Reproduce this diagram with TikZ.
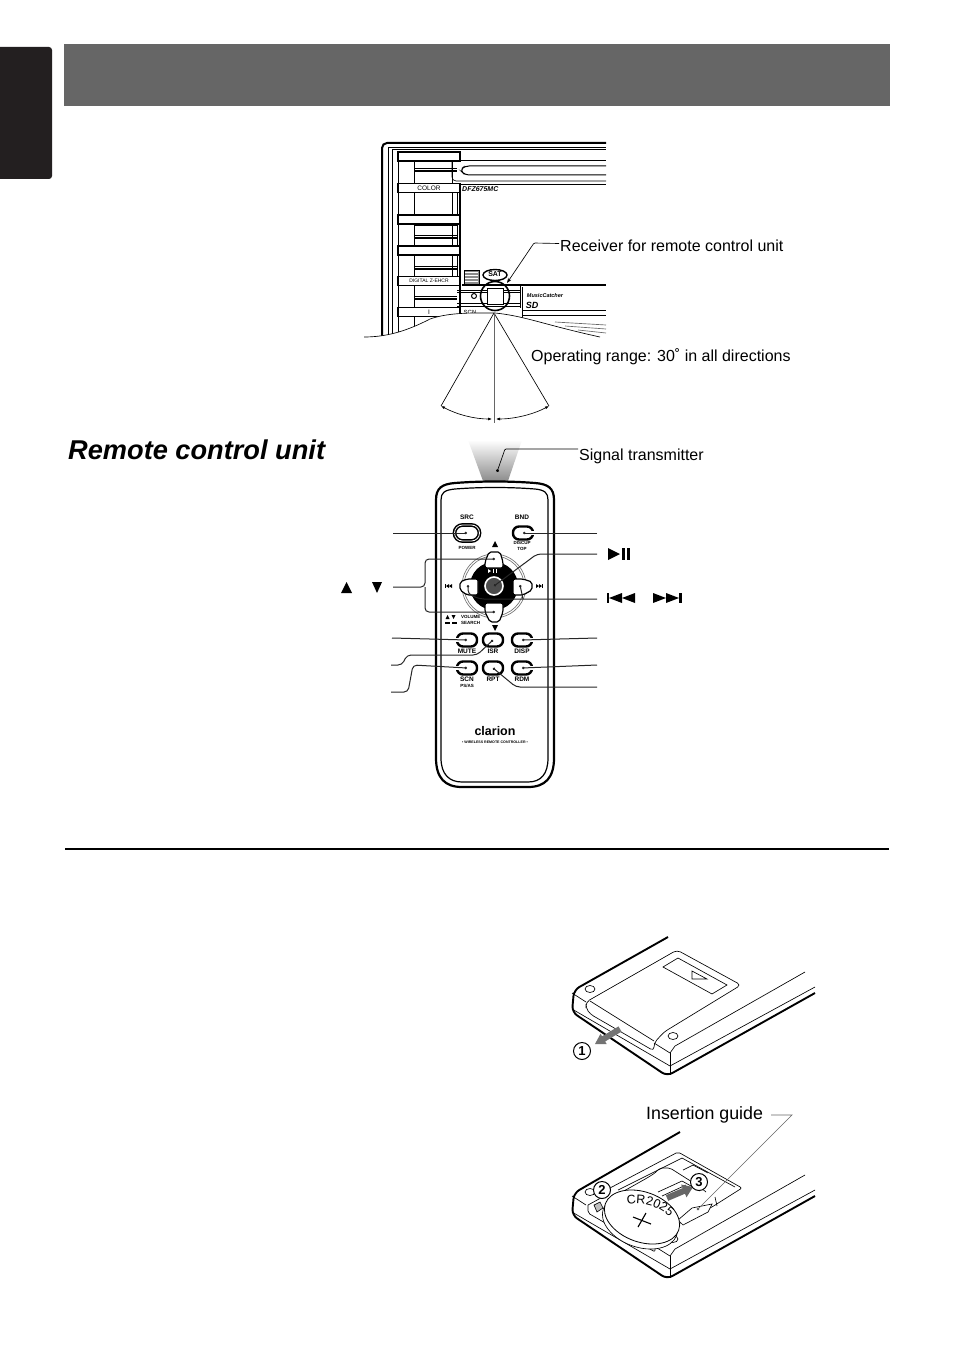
\documentclass[tikz,border=0pt]{standalone}
\usepackage{fontspec}
\setmainfont{Liberation Sans}
\usetikzlibrary{arrows.meta,shapes.geometric,decorations.text}
\definecolor{tabblack}{HTML}{231F20}
\newcommand{\sizept}[1]{\fontsize{#1}{#1}\selectfont}
% body of the remote seen from behind, start of the top edge as argument
\newcommand{\remotebody}[1]{
  \draw[line width=1.9pt,rounded corners=6pt] #1 -- (574,990) -- (572,1012) -- (667,1076) -- (815,993);
  \draw[thin] (572,993) -- (586,1002);
  \draw[thin] (572,1009) -- (670,1066) -- (815,987);
  \draw[thin] (670,1053) -- (670,1075);
  \draw[thin] (654,1043) -- (670,1053) -- (675,1046) -- (805,972);
  \draw[thin] (590,989) ellipse [x radius=5pt,y radius=3.5pt];
  \draw[thin] (673,1036) ellipse [x radius=5pt,y radius=3.5pt];
}
\tikzset{
  thin/.style={line width=0.65pt},
  headbtn/.style={draw,fill=white,line width=1.5pt,minimum width=62pt,minimum height=9pt,inner sep=0pt,font=\sizept{6.5}},
  rcbtn/.style={draw,fill=white,line width=2.4pt,rounded corners=6pt,minimum width=20pt,minimum height=13pt,inner sep=0pt},
  padbtn/.style={draw,fill=white,line width=1.2pt,rounded corners=2pt},
  rclabel/.style={inner sep=0pt,font=\sizept{6.5}\bfseries},
  rcsmall/.style={inner sep=0pt,font=\sizept{4.5}\bfseries},
  leader/.style={line width=1pt,draw=black!85,rounded corners=4pt,-{Circle[length=2.5pt]}},
  caption/.style={anchor=west,inner sep=1pt,font=\sizept{16}},
  numdisc/.style={circle,draw,fill=white,line width=1pt,minimum size=17pt,inner sep=0pt,font=\sizept{13}\bfseries},
  slit/.style={line width=1.2pt},
}
\begin{document}
\begin{tikzpicture}[x=1pt,y=-1pt]
  \fill[white] (0,0) rectangle (954,1351);
  \useasboundingbox (0,0) rectangle (954,1351);
  % page furniture
  \fill[tabblack,rounded corners=3pt] (-6,47) rectangle (52,179);
  \fill[black!60] (64,44) rectangle (890,106);
  \node[anchor=west,inner sep=0pt,font=\sizept{27.2}\bfseries\itshape] (rcutitle) at (68,450) {Remote control unit};
  \draw[line width=2.4pt] (65,849) -- (889,849);

  % head unit
  \draw[line width=2pt,rounded corners=5pt] (382,340) -- (382,143) -- (606,143);
  \draw[thin] (388,340) -- (388,147) -- (606,147);
  \draw[thin] (392,340) -- (392,149) -- (606,149);
  \draw[thin] (398,340) -- (398,152);
  \draw[thin] (414,161) -- (414,340);
  \draw[thin] (452,161) -- (452,184);
  \draw[thin] (452,192) -- (452,277);
  \draw[thin] (457,192) -- (457,277);
  \draw[line width=1.5pt] (460,184) -- (460,316);
  \draw[thin] (460,160) -- (606,160);
  \draw[line width=1pt,rounded corners=4pt] (606,166) -- (465,166) -- (460,170) -- (465,175) -- (606,175);
  \draw[thin,rounded corners=4pt] (452,161) -- (452,181) -- (606,181);
  \draw[thin] (460,184) -- (606,184);
  \foreach \y in {168,222,235,266,296} {
    \draw[thin] (414,\y) -- (457,\y);
    \draw[slit] (414,\y+3) -- (457,\y+3);
  }
  \node[headbtn] (btnone) at (429,156.5) {};
  \node[headbtn] (btncolor) at (429,188) {COLOR};
  \node[headbtn] (btnthree) at (429,219.5) {};
  \node[headbtn] (btnfour) at (429,250.5) {};
  \node[headbtn,font=\sizept{5}] (btnenhc) at (429,281) {DIGITAL Z-EHCR};
  \node[headbtn] (btnsix) at (429,312) {I};
  \node[anchor=west,inner sep=0pt,font=\sizept{7}\bfseries\itshape] (modelname) at (462,189) {DFZ675MC};
  \draw[thin] (457,290) -- (520,290);
  \draw[thin] (457,292) -- (520,292);
  \draw[thin] (457,303) -- (520,303);
  \draw[thin] (457,306) -- (520,306);
  \draw[line width=1.5pt] (462,285) -- (606,285);
  \draw[line width=1pt] (520,285) -- (520,308);
  \draw[thin] (522,287) -- (522,318);
  \draw[thin] (522,310) -- (606,310);
  \draw[thin] (522,315) -- (606,315);
  \node[inner sep=0pt,font=\sizept{5.5}\bfseries\itshape] (musiccatcher) at (545,296) {MusicCatcher};
  \node[inner sep=0pt,font=\sizept{9}\bfseries\itshape] (sdmark) at (532,305) {SD};
  \node[inner sep=0pt,font=\sizept{6}] (scnmark) at (470,312) {SCN};
  \draw[thin,fill=black!45] (464,270) rectangle (479,284);
  \foreach \y in {272,275,278,281} \draw[white,thin] (465,\y) -- (478,\y);
  \draw[line width=1.4pt,fill=white] (495,275) ellipse [x radius=12pt,y radius=5.5pt];
  \node[inner sep=0pt,font=\sizept{7}\bfseries] (satmark) at (495,274.5) {SAT};
  \draw[line width=1pt,fill=white] (474,296) circle [radius=2.5pt];
  \draw[thin,fill=white] (487,288) rectangle (503,304);
  \node[circle,draw,line width=1.6pt,minimum size=29pt,inner sep=0pt] (receiver) at (495,296) {};
  % cut edge of the drawing
  \fill[white] (364,337) .. controls (385,337) and (405,332) .. (430,319) .. controls (450,312) and (475,313) .. (495,313) .. controls (525,316) and (570,330) .. (607,338) -- (607,345) -- (364,345) -- cycle;
  \draw[thin] (364,337) .. controls (385,337) and (405,332) .. (430,319) .. controls (450,312) and (475,313) .. (495,313) .. controls (525,316) and (545,325) .. (600,337);
  \draw[black!60,thin] (555,322) -- (606,325);
  \draw[black!60,thin] (565,326) -- (606,329);
  \draw[black!60,thin] (578,330) -- (606,333);
  \node[caption] (recvlabel) at (559,245.5) {Receiver for remote control unit};
  \draw[thin,rounded corners=1pt,-{Stealth[length=5pt]}] (recvlabel.west) ++(0,-2) -- (534,243) -- (507,283);
  \node[caption] (rangelabel) at (530,357) {Operating range: 30˚ in all directions};
  \coordinate (fanapex) at (494,313);
  \coordinate (fanleft) at (441,406);
  \coordinate (fanright) at (549,406);
  \coordinate (fanmid) at (494,423);
  \draw[thin] (fanleft) -- (fanapex) -- (fanright);
  \draw[black!60,thin] (fanapex) -- (fanmid);
  \draw[thin,{Latex[length=4pt]}-{Latex[length=4pt]}] (fanleft) .. controls (458,415) and (475,419) .. (492,419);
  \draw[thin,{Latex[length=4pt]}-{Latex[length=4pt]}] (fanright) .. controls (532,415) and (513,419) .. (496,419);

  % remote control
  \shade[top color=white,bottom color=black!45] (468,440) -- (522,440) -- (508,481) -- (483,481) -- cycle;
  \draw[line width=2.2pt] (436,500) .. controls (436,488) and (442,484) .. (455,483) .. controls (480,481) and (510,481) .. (535,483) .. controls (548,484) and (554,488) .. (554,500) -- (554,758) .. controls (554,778) and (545,787) .. (528,787) -- (462,787) .. controls (445,787) and (436,778) .. (436,758) -- cycle;
  \draw[line width=1.2pt] (441,500) .. controls (441,493) and (444,490) .. (455,489) .. controls (480,487) and (510,487) .. (535,489) .. controls (545,490) and (548,493) .. (548,500) -- (548,758) .. controls (548,774) and (541,782) .. (528,782) -- (462,782) .. controls (449,782) and (441,774) .. (441,758) -- cycle;
  \node[rcbtn,double,line width=1.5pt,double distance=0.8pt,minimum width=25pt,minimum height=16pt,rounded corners=8pt] (srcbtn) at (467,533) {};
  \node[rcbtn] (bndbtn) at (523,533) {};
  \node[rcbtn] (mutebtn) at (467,640) {};
  \node[rcbtn] (isrbtn) at (493,640) {};
  \node[rcbtn] (dispbtn) at (522,640) {};
  \node[rcbtn] (scnbtn) at (467,668) {};
  \node[rcbtn] (rptbtn) at (493,668) {};
  \node[rcbtn] (rdmbtn) at (522,668) {};
  \foreach \b/\d in {bndbtn/east,mutebtn/west,dispbtn/east,scnbtn/west,rdmbtn/east}
    \draw[white,line width=4pt,shorten <=-2pt] (\b.\d) -- (\b.center);
  \node[rclabel] (srclabel) at (467,517) {SRC};
  \node[rclabel] (bndlabel) at (522,517) {BND};
  \node[rcsmall] (powerlabel) at (467,548) {POWER};
  \node[rcsmall] (disclabel) at (522,543) {DISCUP};
  \node[rcsmall] (toplabel) at (522,549) {TOP};
  \node[rclabel] (mutelabel) at (467,651) {MUTE};
  \node[rclabel] (isrlabel) at (493,651) {ISR};
  \node[rclabel] (displabel) at (522,651) {DISP};
  \node[rclabel] (scnlabel) at (467,679) {SCN};
  \node[rclabel] (rptlabel) at (493,679) {RPT};
  \node[rclabel] (rdmlabel) at (522,679) {RDM};
  \node[rcsmall] (pslabel) at (467,686) {PS/AS};
  \node[rcsmall,anchor=west] (vollabel) at (461,617) {VOLUME};
  \node[rcsmall,anchor=west] (searchlabel) at (461,623) {SEARCH};
  \fill (445.5,619) -- (449.5,619) -- (447.5,615) -- cycle;
  \fill (451.5,615) -- (455.5,615) -- (453.5,619) -- cycle;
  \fill (445,621.5) rectangle (450,624);
  \fill (452,621.5) rectangle (457,624);
  \node[inner sep=0pt,font=\sizept{12.5}\bfseries] (clarionname) at (495,731) {clarion};
  \node[inner sep=0pt,font=\sizept{3.6}\bfseries] (wirelessname) at (495,742) {• WIRELESS REMOTE CONTROLLER •};
  % pad
  \draw[black!55,thin] (494,586) circle [radius=32pt];
  \draw[black!55,thin] (494,586) circle [radius=30pt];
  \fill[black] (494,586) circle [radius=24pt];
  \draw[padbtn] (489,552) -- (500,552) -- (503,562) -- (503,568) -- (485,568) -- (485,562) -- cycle;
  \draw[padbtn] (485,603) -- (503,603) -- (503,612) -- (499,622) -- (490,622) -- (485,612) -- cycle;
  \draw[padbtn] (460,582) -- (467,579) -- (478,579) -- (478,595) -- (467,595) -- (460,590) -- cycle;
  \draw[padbtn] (513,579) -- (523,579) -- (532,582) -- (532,590) -- (523,595) -- (513,595) -- cycle;
  \node[circle,draw=white,fill=black!70,line width=1.6pt,minimum size=18pt,inner sep=0pt] (okbtn) at (494,586) {};
  \fill[white] (488,569) -- (488,573) -- (491,571) -- cycle;
  \fill[white] (493,569) rectangle (494,573);
  \fill[white] (495.5,569) rectangle (496.5,573);
  \fill (492,547) -- (498,547) -- (495,541) -- cycle;
  \fill (492,625) -- (498,625) -- (495,631) -- cycle;
  % small marks left and right of the pad
  \fill (445,584) rectangle (446,588);
  \fill (446,586) -- (449,584) -- (449,588) -- cycle;
  \fill (449,586) -- (452,584) -- (452,588) -- cycle;
  \fill (536,584) -- (539,586) -- (536,588) -- cycle;
  \fill (539,584) -- (542,586) -- (539,588) -- cycle;
  \fill (542,584) rectangle (543,588);
  \coordinate (upbtn) at (495,559);
  \coordinate (downbtn) at (495,612);
  \coordinate (prevbtn) at (468,585);
  \coordinate (nextbtn) at (520,585);
  % leaders, free ends
  \coordinate (srcend) at (393,533);
  \coordinate (volend) at (393,587);
  \coordinate (muteend) at (392,638);
  \coordinate (isrend) at (391,665);
  \coordinate (scnend) at (391,692);
  \coordinate (bndend) at (597,533);
  \coordinate (playend) at (597,554);
  \coordinate (skipend) at (597,599);
  \coordinate (dispend) at (597,638);
  \coordinate (rdmend) at (597,665);
  \coordinate (rptend) at (597,687);
  \coordinate (beamdot) at (497,472);
  \node[anchor=west,inner sep=1pt,font=\sizept{16}] (signallabel) at (578,456) {Signal transmitter};
  \draw[thin,rounded corners=1pt,-{Circle[length=3pt]}] (signallabel.west) ++(0,-7) -- (505,449) -- (beamdot);
  \draw[leader] (srcend) -- (srcbtn.center);
  \draw[leader] (bndend) -- (bndbtn.center);
  \draw[leader] (volend) -- (425,587) -- (425,559) -- (upbtn);
  \draw[leader] (425,587) -- (425,612) -- (downbtn);
  \draw[leader] (playend) -- (537,554) -- (okbtn.center);
  \draw[leader] (skipend) -- (480,599) -- (468,594) -- (prevbtn);
  \draw[leader] (523,599) -- (nextbtn);
  \draw[leader] (muteend) -- (mutebtn.center);
  \draw[leader] (isrend) -- (402,665) -- (407,655) -- (477,655) -- (isrbtn.center);
  \draw[leader] (scnend) -- (408,692) -- (413,665) -- (scnbtn.center);
  \draw[leader] (dispend) -- (dispbtn.center);
  \draw[leader] (rdmend) -- (rdmbtn.center);
  \draw[leader] (rptend) -- (516,687) -- (rptbtn.center);
  % printed keys beside the leaders
  \fill (341,593) -- (352,593) -- (346.5,582) -- cycle;
  \fill (372,582) -- (382,582) -- (377,593) -- cycle;
  \fill (608,548) -- (608,560) -- (620,554) -- cycle;
  \fill (622,548) rectangle (625,560);
  \fill (627,548) rectangle (630,560);
  \fill (607,593) rectangle (609,603);
  \fill (609,598) -- (622,593) -- (622,603) -- cycle;
  \fill (622,598) -- (635,593) -- (635,603) -- cycle;
  \fill (653,593) -- (666,598) -- (653,603) -- cycle;
  \fill (666,593) -- (679,598) -- (666,603) -- cycle;
  \fill (679,593) rectangle (682,603);

  % battery cover
  \remotebody{(668,937)}
  \draw[thin,rounded corners=4pt] (586,1008) -- (586,1002) -- (677,950) -- (741,985) -- (664,1032) -- (654,1043) -- (654,1051) -- (590,1014) -- cycle;
  \draw[thin] (590,1001) -- (654,1041);
  \draw[thin] (663,967) -- (678,958) -- (727,985) -- (712,994) -- cycle;
  \draw[thin] (692,971) -- (707,979) -- (692,979) -- cycle;
  \fill[black!55] (621.5,1031.6) -- (618.5,1026.4) -- (602.1,1036.3) -- (600.5,1033.8) -- (595,1044) -- (606.7,1044) -- (605.1,1041.5) -- cycle;
  \node[numdisc] (stepone) at (582,1051) {1};

  % battery compartment
  \begin{scope}[yshift=-203pt]
    \remotebody{(680,929)}
  \end{scope}
  \draw[thin,rounded corners=2pt] (588,1205) -- (588,1213) -- (655,1252) -- (655,1243) -- (660,1237) -- (680,1223) -- (712,1207) -- (742,1188) -- (678,1152) -- (610,1188);
  \draw[thin] (618,1190) -- (682,1158) -- (735,1187);
  \draw[thin,rounded corners=2pt] (615,1196) -- (647,1178) -- (655,1173) -- (660,1168) -- (670,1168) -- (700,1187) -- (706,1192);
  \draw[thin] (683,1170) -- (693,1165) -- (708,1173);
  \draw[thin] (658,1192) -- (682,1181) -- (700,1191);
  \draw[thin] (662,1196) -- (686,1185);
  \draw[thin,fill=black!25] (594,1205) -- (600,1202) -- (603,1208) -- (597,1212) -- cycle;
  \draw[thin] (588,1205) -- (610,1193);
  \draw[thin,fill=white] (678,1220) -- (692,1208) -- (712,1204) -- (708,1212) -- (683,1225) -- cycle;
  \draw[thin] (715,1197) -- (717,1206);
  \draw[thin,fill=white,shift={(640,1222)},rotate=-20] (0,0) ellipse [x radius=39pt,y radius=25pt];
  \draw[line width=0.8pt,fill=white,shift={(642,1217)},rotate=-20] (0,0) ellipse [x radius=39pt,y radius=25pt];
  \path[decorate,decoration={text along path,text align=center,text={|\sizept{12.5}|CR2025}}] (621,1207) .. controls (640,1200) and (660,1205) .. (674,1222);
  \draw[line width=1.1pt] (633,1217) -- (651,1224);
  \draw[line width=1.1pt] (646,1213) -- (638,1227);
  \fill[black!60] (668.2,1200.8) -- (665.8,1195.2) -- (682.6,1188.1) -- (681.1,1184.5) -- (693,1187) -- (686.5,1197.3) -- (685,1193.7) -- cycle;
  \node[numdisc] (steptwo) at (602,1190) {2};
  \node[numdisc] (stepthree) at (699,1182) {3};
  \node[anchor=west,inner sep=1pt,font=\sizept{17.8}] (guidelabel) at (645,1115) {Insertion guide};
  \coordinate (guidedot) at (697,1210);
  \draw[black!60,thin,-{Circle[length=3pt]}] (guidelabel.east) ++(7,0) -- (792,1115) -- (guidedot);
\end{tikzpicture}
\end{document}
